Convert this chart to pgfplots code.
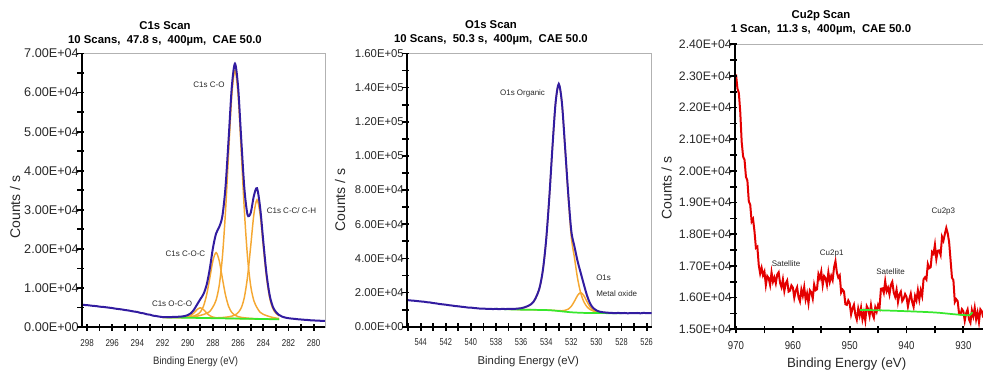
\documentclass[border=0pt]{standalone}
\usepackage{pgfplots}
\pgfplotsset{compat=1.18}
\usetikzlibrary{calc}
\usepackage{fontspec}
\setmainfont{Liberation Sans}
\usepackage{graphicx}
\definecolor{envblue}{RGB}{50,28,160}
\definecolor{comporange}{RGB}{245,168,50}
\definecolor{bggreen}{RGB}{55,232,45}
\definecolor{cured}{RGB}{228,0,0}
\definecolor{txt}{RGB}{40,40,40}
\newcommand\xa[1]{\scalebox{0.8}[1]{#1}}
\newcommand\xb[1]{\scalebox{0.74}[1]{#1}}
\newcommand\xc[1]{\scalebox{0.85}[1]{#1}}
\tikzset{tk/.style={black, line width=1.3pt}}
\pgfplotsset{xps/.style={
  scale only axis, anchor=south west, x dir=reverse, scaled ticks=false,
  axis line style={draw=gray!60, line width=0.6pt},
  major tick length=0pt, minor tick length=0pt, tick pos=left,
  xticklabel style={anchor=north, inner sep=0pt, text=txt},
  yticklabel style={anchor=east, inner sep=0pt, text=txt},
  xticklabel shift=9pt, yticklabel shift=2.2pt,
}}
\begin{document}
\begin{tikzpicture}
\path[use as bounding box] (0pt,0pt) rectangle (737.25pt,278.25pt);
% ---------------- Panel 1: C1s ----------------
\begin{axis}[xps, name=ax1, at={(61.5pt,33pt)}, width=182.25pt, height=205.1pt,
  xmin=279.1, xmax=298.4, ymin=0, ymax=70000,
  xtick={280,282,...,298},
  xticklabels={\xa{280},\xa{282},\xa{284},\xa{286},\xa{288},\xa{290},\xa{292},\xa{294},\xa{296},\xa{298}},
  ytick={0,10000,...,70000},
  yticklabels={0.00E+00,1.00E+04,2.00E+04,3.00E+04,4.00E+04,5.00E+04,6.00E+04,7.00E+04},
  xticklabel style={font=\fontsize{7.5}{8}\selectfont},
  yticklabel style={font=\fontsize{9.5}{10}\selectfont},
]
% C-O component
\addplot[comporange, line width=1.1pt, smooth] coordinates {
(282.75,2170)(283.00,2284)(283.25,2448)(283.50,2661)(283.75,2925)(284.00,3239)(284.25,3753)(284.50,4956)(284.75,6730)(285.00,10524)(285.25,17778)(285.50,29541)(285.75,44815)(286.00,59319)(286.25,65663)(286.50,59346)(286.75,44870)(287.00,29624)(287.25,17888)(287.50,10661)(287.75,6895)(288.00,5149)(288.25,3973)(288.50,3486)(288.75,3200)(289.00,2964)(289.25,2778)(289.50,2641)(289.75,2555)(290.00,2519)(290.25,2483)(290.50,2476)(290.75,2470)(291.00,2474)(291.50,2481)(292.00,2499)};
% C-C / C-H component
\addplot[comporange, line width=1.1pt, smooth] coordinates {
(282.75,2870)(283.00,3524)(283.25,4768)(283.50,7551)(283.75,12825)(284.00,20629)(284.25,28783)(284.50,32566)(284.75,28810)(285.00,20684)(285.25,12908)(285.50,7661)(285.75,4905)(286.00,3689)(286.25,3063)(286.50,2776)(286.75,2610)(287.00,2504)(287.25,2418)(287.50,2381)(287.75,2355)(288.00,2339)(288.50,2336)(289.00,2349)(290.00,2389)(291.00,2439)(292.00,2489)};
% C-O-C component
\addplot[comporange, line width=1.1pt, smooth] coordinates {
(282.75,1985)(283.50,2036)(284.00,2079)(284.50,2126)(284.75,2160)(285.00,2204)(285.25,2268)(285.50,2351)(285.75,2465)(286.00,2649)(286.25,3013)(286.50,3706)(286.75,5240)(287.00,8154)(287.25,12458)(287.50,16951)(287.75,19045)(288.00,16979)(288.25,12513)(288.50,8236)(288.75,5350)(289.00,3844)(289.25,3178)(289.50,2841)(289.75,2685)(290.00,2599)(290.25,2543)(290.50,2506)(291.00,2484)(291.50,2491)(292.00,2504)};
% O-C-O component
\addplot[comporange, line width=1.1pt, smooth] coordinates {
(282.75,1975)(285.00,2099)(286.00,2157)(286.50,2191)(286.75,2210)(287.00,2234)(287.25,2278)(287.50,2311)(287.75,2375)(288.00,2529)(288.25,2893)(288.50,3586)(288.75,4450)(289.00,4914)(289.25,4478)(289.50,3641)(289.75,2975)(290.00,2639)(290.25,2513)(290.50,2476)(290.75,2470)(291.00,2454)(291.50,2466)(292.00,2487)};
% background
\addplot[bggreen, line width=1.3pt] coordinates {(282.75,1970)(285.00,2094)(288.00,2259)(292.00,2479)};
% envelope / data
\addplot[envblue, line width=1.5pt, smooth] coordinates {
(279.1,1540)(279.25,1560)(279.50,1600)(279.75,1640)(280.00,1680)(280.25,1720)(280.50,1800)(280.75,1850)(281.00,1920)(281.25,1980)(281.50,2080)(281.75,2150)(282.00,2250)(282.25,2400)(282.50,2650)
(282.75,3090)(283.00,3849)(283.25,5243)(283.50,8231)(283.75,13760)(284.00,21874)(284.25,30538)(284.50,35521)(284.75,33545)(285.00,29229)(285.25,28746)(285.50,35319)(285.75,47923)(286.00,61367)(286.25,67423)(286.50,61491)(286.75,48360)(287.00,35904)(287.25,28388)(287.50,25611)(287.75,23935)(288.00,20219)(288.25,14893)(288.50,10786)(288.75,8440)(289.00,7129)(289.25,5808)(289.50,4466)(289.75,3525)(290.00,3039)(290.25,2793)(290.50,2681)(290.75,2625)(291.00,2579)(291.25,2558)(291.50,2546)(291.75,2540)(292.00,2542)
(292.25,2650)(292.50,2800)(292.75,2900)(293.00,3150)(293.25,3250)(293.50,3500)(293.75,3600)(294.00,3850)(294.25,3950)(294.50,4100)(294.75,4250)(295.00,4350)(295.25,4500)(295.50,4600)(295.75,4700)(296.00,4850)(296.25,4950)(296.50,5050)(296.75,5150)(297.00,5200)(297.25,5350)(297.50,5400)(297.75,5500)(298.00,5600)(298.25,5650)(298.40,5750)};
\end{axis}
\draw[black, line width=1.4pt] (ax1.north west) -- (ax1.south west) -- (ax1.south east);
\foreach \t in {280,281,...,298} {
  \pgfmathsetmacro\f{(298.4-\t)/19.3}
  \draw[tk] ($(ax1.south west)!\f!(ax1.south east)$) ++(0,-3pt) -- ++(0,5.5pt);
}
\foreach \v in {0,5,...,70} {
  \pgfmathsetmacro\f{\v/70}
  \draw[tk] ($(ax1.south west)!\f!(ax1.north west)$) ++(-3.5pt,0) -- ++(5pt,0);
}
% ---------------- Panel 2: O1s ----------------
\begin{axis}[xps, name=ax2, at={(305.25pt,33.2pt)}, width=183.5pt, height=205pt,
  xmin=525.6, xmax=545.09, ymin=0, ymax=160000,
  xtick={526,528,...,544},
  xticklabels={\xb{526},\xb{528},\xb{530},\xb{532},\xb{534},\xb{536},\xb{538},\xb{540},\xb{542},\xb{544}},
  ytick={0,20000,...,160000},
  yticklabels={0.00E+00,2.00E+04,4.00E+04,6.00E+04,8.00E+04,1.00E+05,1.20E+05,1.40E+05,1.60E+05},
  xticklabel style={font=\fontsize{7.5}{8}\selectfont},
  yticklabel style={font=\fontsize{8.5}{9}\selectfont},
]
% organic component
\addplot[comporange, line width=1.1pt, smooth] coordinates {
(528.00,7970)(528.50,8025)(529.00,8100)(529.25,8170)(529.50,8290)(529.75,8470)(530.00,8750)(530.25,9225)(530.50,10050)(530.75,11675)(531.00,14600)(531.25,19675)(531.50,28250)(531.75,40350)(532.00,52450)(532.25,76625)(532.50,104620)(532.75,130830)(533.00,141900)(533.25,131205)(533.50,105370)(533.75,76000)(534.00,51170)(534.25,33880)(534.50,23595)(534.75,18180)(535.00,14700)(535.25,12925)(535.50,11950)(535.75,11275)(536.00,10800)(536.25,10550)(536.50,10450)(536.75,10400)(537.00,10380)};
% metal oxide component
\addplot[comporange, line width=1.1pt, smooth] coordinates {
(528.00,7920)(528.50,7955)(529.00,8010)(529.25,8080)(529.50,8175)(529.75,8340)(530.00,8805)(530.25,9685)(530.50,11560)(530.75,14675)(531.00,18190)(531.25,19975)(531.50,18340)(531.75,14950)(532.00,11960)(532.25,10285)(532.50,9605)(532.75,9350)(533.00,9400)(533.25,9495)(533.50,9590)(534.00,9780)(535.00,9930)(536.00,10020)(537.00,10220)};
% background
\addplot[bggreen, line width=1.3pt, smooth] coordinates {
(528.0,7900)(529.0,7950)(530.0,8000)(531.0,8100)(531.5,8250)(532.0,8450)(532.5,8800)(533.0,9200)(533.5,9550)(534.0,9750)(535.0,9900)(536.0,10000)(537.0,10200)(538.0,10500)};
% envelope / data
\addplot[envblue, line width=1.5pt, smooth] coordinates {
(525.60,7900)(525.75,8000)(526.00,7950)(526.25,8100)(526.50,7850)(526.75,8050)(527.00,7900)(527.25,8000)(527.50,7850)(527.75,8050)(528.00,7900)(528.25,8100)(528.50,7950)(528.75,8050)
(529.00,8160)(529.25,8290)(529.50,8490)(529.75,8820)(530.00,9555)(530.25,10885)(530.50,13560)(530.75,18275)(531.00,24690)(531.25,31475)(531.50,38340)(531.75,46950)(532.00,55960)(532.25,78285)(532.50,105425)(532.75,131180)(533.00,142100)(533.25,131325)(533.50,105460)(533.75,76080)(534.00,51240)(534.25,33940)(534.50,23650)(534.75,18230)(535.00,14745)(535.25,12965)(535.50,11985)(535.75,11305)(536.00,10830)(536.50,10475)
(536.75,10400)(537.00,10450)(537.25,10350)(537.50,10450)(537.75,10300)(538.00,10450)(538.25,10350)(538.50,10500)(538.75,10450)(539.00,10650)(539.25,10600)(539.50,10800)(539.75,10950)(540.00,11200)(540.25,11250)(540.50,11500)(540.75,11700)(541.00,11950)(541.25,12100)(541.50,12400)(541.75,12600)(542.00,12900)(542.25,13100)(542.50,13300)(542.75,13650)(543.00,13850)(543.25,14200)(543.50,14350)(543.75,14650)(544.00,14800)(544.25,15000)(544.50,15200)(544.75,15350)(545.09,15600)};
\end{axis}
\draw[black, line width=1.4pt] (ax2.north west) -- (ax2.south west) -- (ax2.south east);
\foreach \t in {526,527,...,545} {
  \pgfmathsetmacro\f{(545.09-\t)/19.49}
  \draw[tk] ($(ax2.south west)!\f!(ax2.south east)$) ++(0,-3pt) -- ++(0,5.5pt);
}
\foreach \v in {0,10,...,160} {
  \pgfmathsetmacro\f{\v/160}
  \draw[tk] ($(ax2.south west)!\f!(ax2.north west)$) ++(-3.5pt,0) -- ++(5pt,0);
}
% ---------------- Panel 3: Cu2p ----------------
\begin{axis}[xps, name=ax3, at={(551.25pt,31.3pt)}, width=195pt, height=213.75pt,
  xmin=924.43, xmax=970.18, ymin=15000, ymax=24000,
  xtick={930,940,...,970},
  xticklabels={\xc{930},\xc{940},\xc{950},\xc{960},\xc{970}},
  ytick={15000,16000,...,24000},
  yticklabels={1.50E+04,1.60E+04,1.70E+04,1.80E+04,1.90E+04,2.00E+04,2.10E+04,2.20E+04,2.30E+04,2.40E+04},
  xticklabel style={font=\fontsize{8.5}{9}\selectfont},
  yticklabel style={font=\fontsize{9.2}{10}\selectfont},
]
\addplot[cured, line width=1.5pt] coordinates {
(970.00,23050)(969.75,22600)(969.50,22460)(969.25,21850)(969.00,20910)(968.75,20450)(968.50,20350)(968.25,19810)(968.00,19700)(967.75,19040)(967.50,18930)(967.25,18400)(967.00,18480)(966.75,18090)(966.50,17570)(966.25,17610)(966.00,17030)(965.75,16760)(965.50,16940)(965.25,16705)(965.00,16820)(964.75,16395)(964.50,16680)(964.25,16615)(964.00,16400)(963.75,16795)(963.50,16500)(963.25,16635)(963.00,16450)(962.75,16730)(962.50,16800)(962.25,16465)(962.00,16330)(961.75,16575)(961.50,16210)(961.25,16450)(961.00,16540)(960.75,16190)(960.50,16220)(960.25,16385)(960.00,16320)(959.75,15995)(959.50,16210)(959.25,16325)(959.00,16010)(958.75,15880)(958.50,16250)(958.25,16060)(958.00,16330)(957.75,15940)(957.50,16130)(957.25,15825)(957.00,16230)(956.75,16165)(956.50,15970)(956.25,16410)(956.00,16230)(955.75,16260)(955.50,16740)(955.25,16605)(955.00,16820)(954.75,16395)(954.50,16680)(954.25,16615)(954.00,16400)(953.75,16795)(953.50,16500)(953.25,16685)(953.00,16550)(952.75,16955)(952.50,17150)(952.25,16790)(952.00,16630)(951.75,16700)(951.50,16160)(951.25,16250)(951.00,16190)(950.75,15790)(950.50,15770)(950.25,15910)(950.00,15820)(949.75,15470)(949.50,15660)(949.25,15775)(949.00,15460)(948.75,15305)(948.50,15650)(948.25,15435)(948.00,15680)(947.75,15315)(947.50,15530)(947.25,15275)(947.00,15730)(946.75,15640)(946.50,15420)(946.25,15760)(946.00,15480)(945.75,15360)(945.50,15690)(945.25,15555)(945.00,15770)(944.75,15670)(944.50,16280)(944.25,16290)(944.00,16150)(943.75,16520)(943.50,16200)(943.25,16310)(943.00,16100)(942.75,16405)(942.50,16500)(942.25,16165)(942.00,16030)(941.75,16250)(941.50,15860)(941.25,16100)(941.00,16190)(940.75,15890)(940.50,15970)(940.25,16110)(940.00,16020)(939.75,15720)(939.50,15960)(939.25,16125)(939.00,15860)(938.75,15705)(938.50,16050)(938.25,15910)(938.00,16230)(937.75,15940)(937.50,16230)(937.25,16050)(937.00,16580)(936.75,16640)(936.50,16570)(936.25,17060)(936.00,16930)(935.75,16960)(935.50,17440)(935.25,17380)(935.00,17670)(934.75,17220)(934.50,17480)(934.25,17490)(934.00,17350)(933.75,17920)(933.50,17800)(933.25,18010)(933.00,18200)(932.75,18030)(932.50,17750)(932.25,17190)(932.00,16630)(931.75,16550)(931.50,15860)(931.25,15950)(931.00,15890)(930.75,15490)(930.50,15470)(930.25,15635)(930.00,15570)(929.75,15270)(929.50,15510)(929.25,15625)(929.00,15310)(928.75,15205)(928.50,15600)(928.25,15410)(928.00,15680)(927.75,15315)(927.50,15530)(927.25,15225)(927.00,15630)(926.75,15565)(926.50,15370)};
\addplot[bggreen, line width=1.3pt, smooth] coordinates {
(948.2,15610)(945,15600)(940,15570)(935,15530)(932,15480)(930,15450)(929,15445)(928.7,15470)(928.4,15540)};
\end{axis}
\draw[black, line width=1.4pt] (ax3.north west) -- (ax3.south west) -- (ax3.south east);
\foreach \t in {930,935,...,970} {
  \pgfmathsetmacro\f{(970.18-\t)/45.75}
  \draw[tk] ($(ax3.south west)!\f!(ax3.south east)$) ++(0,-3pt) -- ++(0,5.5pt);
}
\foreach \v in {0,5,...,90} {
  \pgfmathsetmacro\f{\v/90}
  \draw[tk] ($(ax3.south west)!\f!(ax3.north west)$) ++(-3.5pt,0) -- ++(5pt,0);
}
% ---------------- Titles ----------------
\node[align=center, font=\fontsize{8.5}{10.5}\selectfont\bfseries] at (123.75pt,253pt) {C1s Scan\\10 Scans,\ \ 47.8 s,\ \ 400µm,\ \ CAE 50.0};
\node[align=center, font=\fontsize{8.5}{10.5}\selectfont\bfseries] at (368.25pt,253.5pt) {O1s Scan\\10 Scans,\ \ 50.3 s,\ \ 400µm,\ \ CAE 50.0};
\node[align=center, font=\fontsize{8.5}{10.5}\selectfont\bfseries] at (615.75pt,261pt) {Cu2p Scan\\1 Scan,\ \ 11.3 s,\ \ 400µm,\ \ CAE 50.0};
% ---------------- Axis labels ----------------
\node[rotate=90, text=txt, font=\fontsize{10.5}{12}\selectfont] at (11.25pt,123pt) {Counts / s};
\node[rotate=90, text=txt, font=\fontsize{10.5}{12}\selectfont] at (255pt,128.25pt) {Counts / s};
\node[rotate=90, text=txt, font=\fontsize{10.5}{12}\selectfont] at (500pt,137.25pt) {Counts / s};
\node[text=txt, font=\fontsize{8}{9}\selectfont] at (146.75pt,7pt) {\scalebox{0.89}[1]{Binding Energy (eV)}};
\node[text=txt, font=\fontsize{8.5}{9}\selectfont] at (396.25pt,7pt) {Binding Energy (eV)};
\node[text=txt, font=\fontsize{10}{11}\selectfont] at (635pt,5pt) {Binding Energy (eV)};
% ---------------- Peak annotations ----------------
\begin{scope}[every node/.style={text=txt, font=\fontsize{6}{7}\selectfont, inner sep=0pt}]
\node at (156.75pt,214.5pt) {C1s C-O};
\node at (218.6pt,120.2pt) {C1s C-C/ C-H};
\node at (139.1pt,88.3pt) {C1s C-O-C};
\node at (129pt,50.8pt) {C1s O-C-O};
\node at (391.9pt,208.3pt) {O1s Organic};
\node[anchor=west] at (447pt,70.25pt) {O1s};
\node[anchor=west] at (447pt,58.25pt) {Metal oxide};
\node at (589.5pt,80.75pt) {Satellite};
\node at (623.8pt,88.25pt) {Cu2p1};
\node at (667.9pt,74.5pt) {Satellite};
\node at (707.5pt,119.75pt) {Cu2p3};
\end{scope}
\end{tikzpicture}
\end{document}
